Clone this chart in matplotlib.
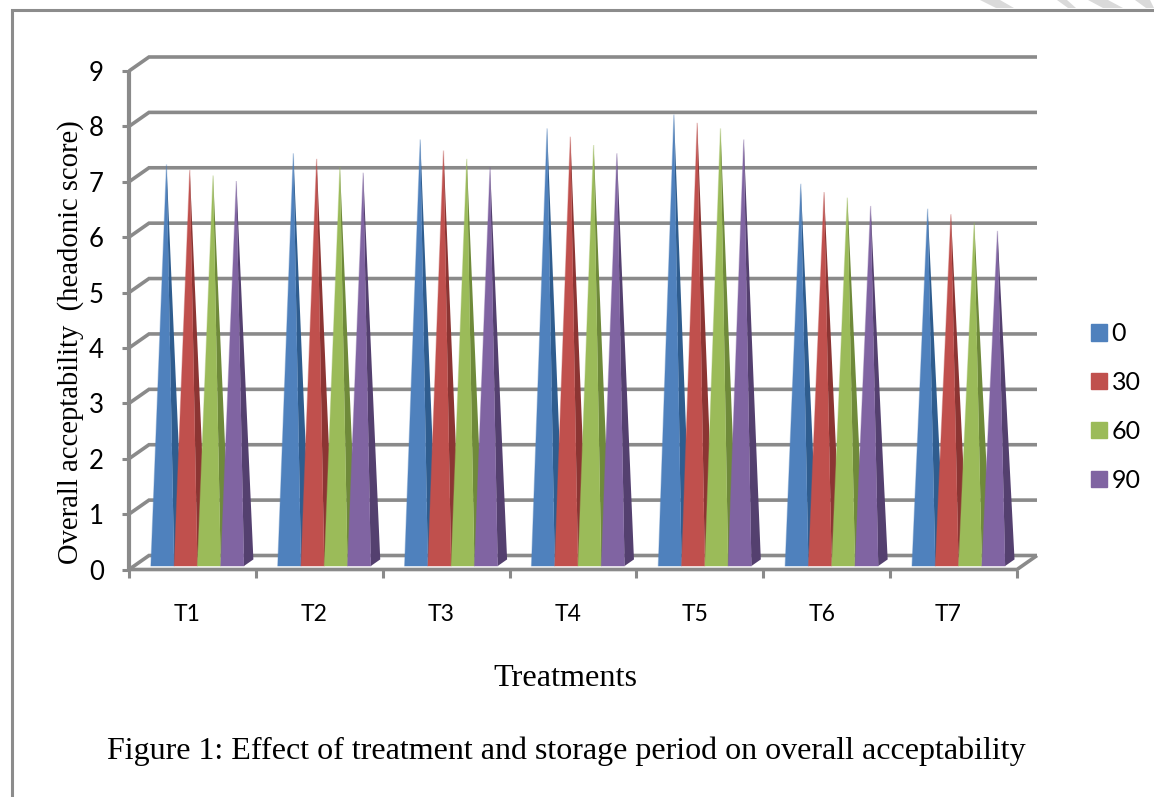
import matplotlib
matplotlib.use("Agg")
import matplotlib.pyplot as plt
from matplotlib.patches import Polygon, Rectangle

categories = ["T1", "T2", "T3", "T4", "T5", "T6", "T7"]
series_names = ["0", "30", "60", "90"]
values_0 = [7.2, 7.4, 7.65, 7.85, 8.1, 6.85, 6.4]
values_30 = [7.1, 7.3, 7.45, 7.7, 7.95, 6.7, 6.3]
values_60 = [7.0, 7.15, 7.3, 7.55, 7.85, 6.6, 6.15]
values_90 = [6.9, 7.05, 7.15, 7.4, 7.65, 6.45, 6.0]
all_values = [values_0, values_30, values_60, values_90]
y_ticks = list(range(10))

front_colors = ["#4f81bd", "#c0504d", "#9bbb59", "#8064a2"]
side_colors = ["#2f5d8f", "#8c3533", "#6f8a3a", "#54406f"]
GRID = "#8a8a8a"
W, H = 1154, 797

fig = plt.figure(figsize=(W / 100, H / 100), dpi=100, facecolor="white")
page = fig.add_axes([0, 0, 1, 1])
page.set_xlim(0, W); page.set_ylim(H, 0); page.axis("off")
page.plot([11.5, 11.5, W], [H, 9.5, 9.5], color="#8c8c8c", lw=2.2, solid_joinstyle="miter")
stripes = [((980, 1000), (996, 1014)), ((1057, 1067), (1068, 1076)),
           ((1088, 1108), (1103, 1123)), ((1135, 1150), (1146, 1154))]
for (ta, tb), (ba, bb) in stripes:
    page.add_patch(Polygon([(ta, 0), (tb, 0), (bb, 8), (ba, 8)], facecolor="#dadada", edgecolor="none"))

ax = fig.add_axes([129 / W, 1 - 569.5 / H, 888 / W, 498.5 / H])
ax.set_xlim(0, 7); ax.set_ylim(0, 9)
ax.patch.set_alpha(0)
for s in ax.spines.values():
    s.set_visible(False)

DX = 20 / (888 / 7)
DY = 14 / (498.5 / 9)
def proj(x, y, z):
    return (x + DX * z, y + DY * z)

lw = 2.6
clip = dict(clip_on=False, solid_capstyle="butt")
for v in y_ticks:
    ax.plot(*zip(proj(0, v, 0), proj(0, v, 1), proj(7, v, 1)), color=GRID, lw=lw, zorder=1,
            solid_joinstyle="miter", **clip)
ax.plot(*zip(proj(7, 0, 1), proj(7, 0, 0), proj(0, 0, 0)), color=GRID, lw=lw, zorder=1, **clip)
ax.plot(*zip(proj(0, 0, 0), proj(0, 9, 0)), color=GRID, lw=lw + .4, zorder=1, **clip)

bw = 0.1835
z0, z1, zm = 0.25, 0.72, 0.45
zo = 3
for i, cat in enumerate(categories):
    left = i + 0.5 - 2 * bw
    for j, vals in enumerate(all_values):
        a = left + j * bw
        b = a + bw
        v = vals[i]
        apex = proj((a + b) / 2, v, zm)
        ax.add_patch(Polygon([proj(a, 0, z0), proj(b, 0, z0), apex], closed=True,
                             facecolor="none", edgecolor=front_colors[j], alpha=0.35, lw=0.9,
                             zorder=zo - .1, clip_on=False))
        ax.add_patch(Polygon([proj(b, 0, z0), proj(b, 0, z1), apex], closed=True,
                             facecolor=side_colors[j], edgecolor="none", zorder=zo, clip_on=False))
        ax.add_patch(Polygon([proj(a, 0, z0), proj(b, 0, z0), apex], closed=True,
                             facecolor=front_colors[j], edgecolor="none", zorder=zo + .5, clip_on=False))
        zo += 1

ax.set_xticks(range(8))
ax.set_xticklabels([])
ax.set_yticks(y_ticks)
ax.set_yticklabels([str(v) for v in y_ticks], fontsize=18.5, family="Lato", color="black")
ax.tick_params(axis="y", length=5, width=2.2, color=GRID, pad=13)
ax.tick_params(axis="x", length=6, width=2.2, color=GRID)
for i, c in enumerate(categories):
    ax.text(i + 0.46, -0.82, c, ha="center", va="center", fontsize=16.5, family="Lato", color="black")

ax.set_ylabel("Overall acceptability  (headonic score)", fontsize=20.6, family="Liberation Serif",
              va="center")
ax.yaxis.set_label_coords(-(129 - 71) / 888, 0.456)
page.text(565, 678, "Treatments", ha="center", va="center", fontsize=23.2, family="Liberation Serif")
page.text(566, 751, "Figure 1: Effect of treatment and storage period on overall acceptability",
          ha="center", va="center", fontsize=23, family="Liberation Serif")

handles = [Rectangle((0, 0), 1, 1, color=c) for c in front_colors]
fig.legend(handles, series_names, loc="center left", bbox_to_anchor=(1078.5 / W, 1 - 407 / H),
           frameon=False, handlelength=0.62, handleheight=0.62, handletextpad=0.2, labelspacing=1.03,
           borderpad=0, prop={"family": "Lato", "size": 18})

fig.savefig("out.png", dpi=100)
